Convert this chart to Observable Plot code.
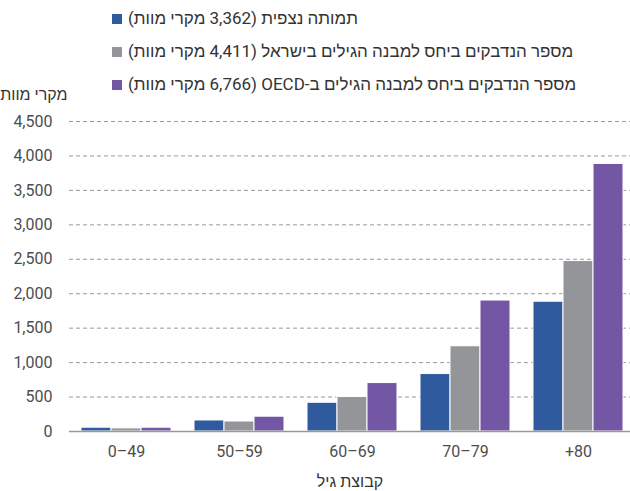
<!DOCTYPE html>
<html>
<head>
<meta charset="utf-8">
<script src="https://cdn.jsdelivr.net/npm/d3@7"></script>
<script src="https://cdn.jsdelivr.net/npm/@observablehq/plot@0.6"></script>
<style>
  html, body { margin: 0; padding: 0; background: white; }
  #wrap { position: relative; width: 630px; height: 491px; font-family: Roboto, "Liberation Sans", sans-serif; }
  #legend { position: absolute; left: 112px; top: 2px; font-size: 17px; color: #333; z-index: 2; }
  .row { height: 33.2px; line-height: 33.2px; white-space: nowrap; }
  .sw { display: inline-block; width: 10px; height: 10px; margin-right: 6px; vertical-align: baseline; }
  .lbl { display: inline-block; direction: rtl; unicode-bidi: isolate; }
</style>
</head>
<body>
<div id="wrap"><div id="legend"></div><div id="chart"></div></div>
<script>
const groups = ["0–49", "50–59", "60–69", "70–79", "+80"];
const observed = [55, 160, 417, 834, 1884];
const israel = [45, 145, 500, 1237, 2474];
const oecd = [55, 215, 703, 1901, 3884];
const seriesNames = [
  "תמותה נצפית (3,362 מקרי מוות)",
  "מספר הנדבקים ביחס למבנה הגילים בישראל (4,411 מקרי מוות)",
  "מספר הנדבקים ביחס למבנה הגילים ב-OECD (6,766 מקרי מוות)"
];
const colors = ["#2f5a9e", "#939598", "#7357a5"];
const yTicks = [0, 500, 1000, 1500, 2000, 2500, 3000, 3500, 4000, 4500];
const yLabel = "מקרי מוות";
const xLabel = "קבוצת גיל";

// legend
const legend = document.getElementById("legend");
seriesNames.forEach((name, i) => {
  const row = document.createElement("div");
  row.className = "row";
  const sw = document.createElement("span");
  sw.className = "sw";
  sw.style.background = colors[i];
  const lbl = document.createElement("span");
  lbl.className = "lbl";
  lbl.textContent = name;
  row.appendChild(sw);
  row.appendChild(lbl);
  legend.appendChild(row);
});

const W = 630, H = 491, mL = 69, mR = 0;
const pi = 0.2035, po = 0.084, align = 0.63;
const step = (W - mL - mR) / (groups.length - pi + 2 * po);
const third = step * (1 - pi) / 3;

const seriesData = [observed, israel, oecd].map(arr => groups.map((g, i) => ({group: g, value: arr[i]})));

const chart = Plot.plot({
  width: W,
  height: H,
  marginLeft: mL,
  marginRight: mR,
  marginTop: 121,
  marginBottom: 60,
  style: {fontFamily: 'Roboto, "Liberation Sans", sans-serif', fontSize: "16px", color: "#4d4d4d", background: "transparent"},
  x: {type: "band", domain: groups, paddingInner: pi, paddingOuter: po, align: align},
  y: {domain: [0, 4500]},
  marks: [
    Plot.gridY(yTicks.filter(d => d > 0), {stroke: "#9a9a9a", strokeOpacity: 1, strokeDasharray: "4,3", strokeWidth: 1}),
    ...seriesData.map((data, k) => Plot.barY(data, {
      x: "group", y: "value", fill: colors[k],
      insetLeft: k * third, insetRight: (2 - k) * third,
      stroke: "white", strokeWidth: 1
    })),
    Plot.ruleY([0], {stroke: "#999", strokeWidth: 1.3}),
    Plot.axisY({ticks: yTicks, tickFormat: d3.format(","), tickSize: 0, tickPadding: 17, label: null, fontSize: 16}),
    Plot.axisX({tickSize: 0, tickPadding: 14, label: null, fontSize: 16}),
    Plot.text([yLabel], {text: d => d, frameAnchor: "top-left", dx: -2, dy: -33, textAnchor: "end", fontSize: 16, fill: "#333"}),
    Plot.text([xLabel], {text: d => d, frameAnchor: "bottom", dy: 55, fontSize: 16, fill: "#333"})
  ]
});
document.getElementById("chart").appendChild(chart);
</script>
</body>
</html>
